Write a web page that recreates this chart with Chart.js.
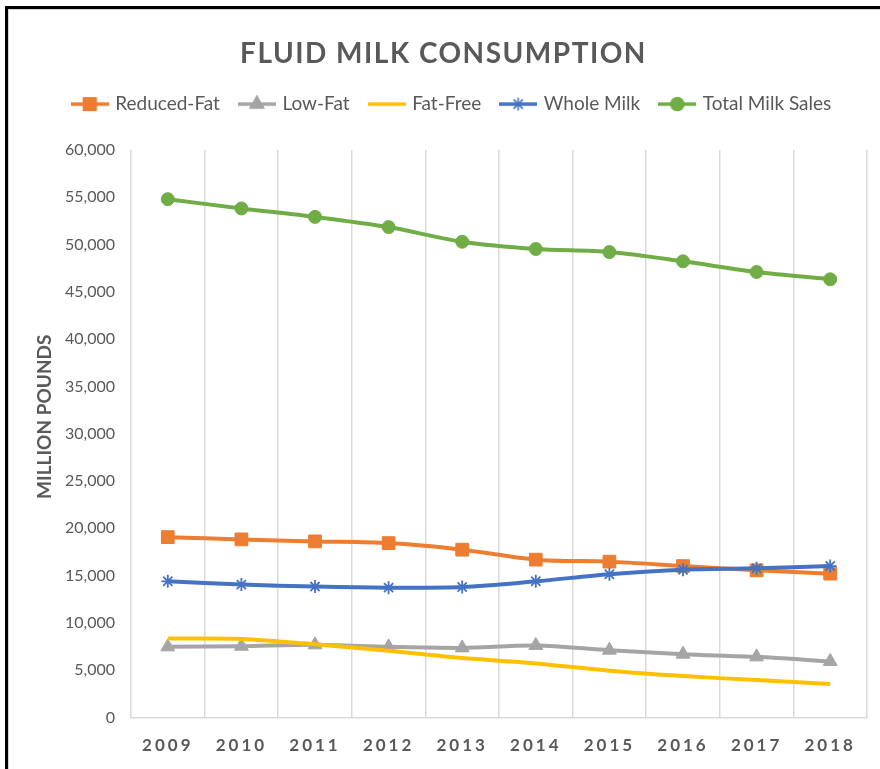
<!DOCTYPE html>
<html>
<head>
<meta charset="utf-8">
<title>Fluid Milk Consumption</title>
<script src="https://cdn.jsdelivr.net/npm/chart.js@4/dist/chart.umd.min.js"></script>
<style>
  html, body { margin: 0; padding: 0; background: #fff; }
  #frame {
    position: absolute; left: 5px; top: 6px; width: 875px; height: 763px;
    border-left: 3px solid #000; border-top: 3px solid #000;
    box-shadow: inset 1px 1px 0 #d4d4d4;
  }
  #wrap { position: absolute; left: 8px; top: 9px; width: 872px; height: 760px; }
</style>
</head>
<body>
<div id="frame"></div>
<div id="wrap"><canvas id="milkChart"></canvas></div>
<script>
// values (million pounds)
const years = ['2009', '2010', '2011', '2012', '2013', '2014', '2015', '2016', '2017', '2018'];
const reducedFat = [19070, 18830, 18620, 18440, 17740, 16690, 16480, 16010, 15560, 15210];
const lowFat = [7470, 7540, 7680, 7470, 7360, 7620, 7120, 6700, 6410, 5930];
const fatFree = [8350, 8310, 7750, 7050, 6280, 5720, 4940, 4380, 3960, 3530];
const wholeMilk = [14400, 14050, 13840, 13730, 13800, 14400, 15140, 15630, 15770, 16010];
const totalSales = [54800, 53820, 52930, 51850, 50300, 49530, 49210, 48230, 47100, 46330];

const textColor = '#595959';
const gridColor = '#d9d9d9';
const fontFamily = 'Lato, "Open Sans", sans-serif';

// small line + marker picture for each legend entry
function legendGlyph(color, style, radius) {
  const c = document.createElement('canvas');
  c.width = 38;
  c.height = 18;
  const g = c.getContext('2d');
  g.strokeStyle = color;
  g.fillStyle = color;
  g.lineWidth = 3.5;
  g.beginPath();
  g.moveTo(0, 9);
  g.lineTo(38, 9);
  g.stroke();
  if (style) {
    g.lineWidth = 1.5;
    Chart.helpers.drawPoint(g, { pointStyle: style, radius: radius, rotation: 0, borderWidth: 1.5 }, 19, 9);
  }
  return c;
}

function series(label, data, color, style, radius, order) {
  return {
    label: label,
    data: data,
    borderColor: color,
    backgroundColor: color,
    borderWidth: 4,
    tension: 0.3,
    pointStyle: style || 'circle',
    pointRadius: style ? radius : 0,
    pointBorderWidth: style === 'star' ? 1.8 : 1,
    pointBorderColor: color,
    pointBackgroundColor: color,
    order: order,
    glyph: legendGlyph(color, style, radius)
  };
}

// extra room under the legend
const legendSpacing = {
  id: 'legendSpacing',
  beforeInit(chart) {
    const fit = chart.legend.fit;
    chart.legend.fit = function () {
      fit.call(this);
      this.height += 26.4;
    };
  }
};

// wrap a draw method so it runs with some canvas state changed
function wrapDraw(obj, fn, setup) {
  if (!obj || obj['_wrapped_' + fn]) return;
  const orig = obj[fn];
  obj[fn] = function () {
    const ctx = this.ctx;
    ctx.save();
    setup(ctx);
    orig.apply(this, arguments);
    ctx.restore();
  };
  obj['_wrapped_' + fn] = true;
}

const textTweaks = {
  id: 'textTweaks',
  beforeDraw(chart) {
    wrapDraw(chart.titleBlock, 'draw', c => { c.letterSpacing = '1.5px'; c.translate(6, 0); });
    wrapDraw(chart.legend, 'draw', c => { c.translate(15, 0); });
    wrapDraw(chart.scales.x, 'drawLabels', c => { c.letterSpacing = '3px'; });
    // axis title sits a little above the middle in the original
    wrapDraw(chart.scales.y, 'drawTitle', c => { c.translate(0, -17); });
  }
};

const ctx = document.getElementById('milkChart').getContext('2d');

const chart = new Chart(ctx, {
  type: 'line',
  data: {
    labels: years,
    datasets: [
      series('Reduced-Fat', reducedFat, '#ED7D31', 'rect', 9, 5),
      series('Low-Fat', lowFat, '#A5A5A5', 'triangle', 8, 4),
      series('Fat-Free', fatFree, '#FFC000', null, 0, 3),
      series('Whole Milk', wholeMilk, '#4472C4', 'star', 6.5, 2),
      series('Total Milk Sales', totalSales, '#70AD47', 'circle', 6.5, 1)
    ]
  },
  options: {
    responsive: true,
    maintainAspectRatio: false,
    animation: false,
    layout: { padding: { left: 0, right: 13, top: 0, bottom: 0 } },
    plugins: {
      title: {
        display: true,
        text: 'FLUID MILK CONSUMPTION',
        color: textColor,
        font: { family: fontFamily, size: 28, weight: 'bold' },
        padding: { top: 28, bottom: 3 }
      },
      legend: {
        display: true,
        position: 'top',
        labels: {
          usePointStyle: true,
          pointStyleWidth: 32,
          padding: 21,
          color: textColor,
          font: { family: fontFamily, size: 19 },
          generateLabels: c => c.data.datasets.map((ds, i) => ({
            text: ds.label,
            pointStyle: ds.glyph,
            fillStyle: ds.borderColor,
            strokeStyle: ds.borderColor,
            lineWidth: 0,
            hidden: false,
            fontColor: textColor,
            datasetIndex: i
          }))
        }
      },
      tooltip: { enabled: false }
    },
    scales: {
      x: {
        offset: true,
        grid: { display: true, offset: true, color: gridColor, lineWidth: 1.5, drawTicks: false },
        border: { display: true, color: gridColor, width: 1.5 },
        ticks: {
          color: textColor,
          padding: 18,
          maxRotation: 0,
          font: { family: fontFamily, size: 17, weight: 'bold' }
        },
        afterFit: s => { s.height = 51.5; }
      },
      y: {
        min: 0,
        max: 60000,
        grid: { display: false, drawTicks: false },
        border: { display: false },
        ticks: {
          stepSize: 5000,
          padding: 16,
          color: textColor,
          font: { family: fontFamily, size: 16 },
          callback: v => v.toLocaleString('en-US')
        },
        title: {
          display: true,
          text: 'MILLION POUNDS',
          color: textColor,
          padding: { top: 25, bottom: 4 },
          font: { family: fontFamily, size: 19, weight: 'bold' }
        },
        afterFit: s => { s.width = 123; }
      }
    }
  },
  plugins: [legendSpacing, textTweaks]
});
</script>
</body>
</html>
